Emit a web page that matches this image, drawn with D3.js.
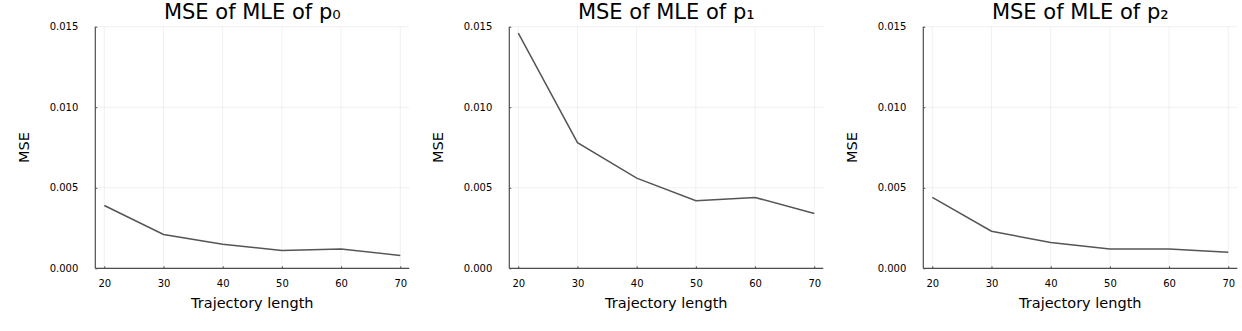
<!DOCTYPE html>
<html>
<head>
<meta charset="utf-8">
<script src="https://cdn.jsdelivr.net/npm/d3@7"></script>
<style>
  body { margin:0; background:#fff; }
  svg { display:block; font-family:"DejaVu Sans", sans-serif; }
  .tick text { font-size:10px; fill:#000; }
  .title { font-size:21px; fill:#000; }
  .label { font-size:14.5px; fill:#000; }
</style>
</head>
<body>
<svg></svg>
<script>
// trajectory lengths on the x axis
var lengths = [20,30,40,50,60,70]
// MSE values
var mseP0 = [0.0039,0.0021,0.0015,0.0011,0.0012,0.0008]
var mseP1 = [0.0146,0.0078,0.0056,0.0042,0.0044,0.0034]
var mseP2 = [0.0044,0.0023,0.0016,0.0012,0.0012,0.0010]
var titles = ["MSE of MLE of p\u2080","MSE of MLE of p\u2081","MSE of MLE of p\u2082"]
var yTicks = [0,0.005,0.010,0.015]
var xTicks = [20,30,40,50,60,70]

var screen = {width:1242,height:331}
var margins = {left:95.3,top:26.7}
var graph = {width:314,height:241.6}
var panelStep = 414

var svg = d3.select("svg")
    .attr("width",screen.width)
    .attr("height",screen.height)

var drawPanel = function(i,values)
{
    var g = svg.append("g")
        .attr("transform","translate("+(margins.left+panelStep*i)+","+margins.top+")")

    var xScale = d3.scaleLinear()
        .domain([18.48,71.52])
        .range([0,graph.width])
    var yScale = d3.scaleLinear()
        .domain([0,0.015])
        .range([graph.height,0])

    // grid
    g.append("g").selectAll("line").data(xTicks).enter().append("line")
        .attr("x1",function(d){return xScale(d)})
        .attr("x2",function(d){return xScale(d)})
        .attr("y1",0).attr("y2",graph.height)
        .attr("stroke","#000").attr("stroke-opacity",0.08).attr("stroke-width",0.8)
    g.append("g").selectAll("line").data(yTicks).enter().append("line")
        .attr("y1",function(d){return yScale(d)})
        .attr("y2",function(d){return yScale(d)})
        .attr("x1",0).attr("x2",graph.width)
        .attr("stroke","#000").attr("stroke-opacity",0.08).attr("stroke-width",0.8)

    var xAxis = d3.axisBottom(xScale).tickValues(xTicks).tickSize(-2).tickPadding(12)
        .tickFormat(d3.format("d"))
    var yAxis = d3.axisLeft(yScale).tickValues(yTicks).tickSize(-2).tickPadding(17)
        .tickFormat(d3.format(".3f"))

    var gx = g.append("g")
        .attr("transform","translate(0,"+graph.height+")")
        .call(xAxis)
    var gy = g.append("g").call(yAxis)
    ;[gx,gy].forEach(function(a){
        a.select(".domain").attr("stroke","#4d4d4d").attr("stroke-width",1.2)
        a.selectAll(".tick line").attr("stroke","#4d4d4d").attr("stroke-width",1)
        a.selectAll("text").attr("font-family",null)
        a.attr("font-family",null).attr("font-size",null)
    })
    gy.select(".domain").attr("d","M0,"+graph.height+"V0")
    gx.select(".domain").attr("d","M0,0H"+graph.width)

    var line = d3.line()
        .x(function(d,j){return xScale(lengths[j])})
        .y(function(d){return yScale(d)})
    g.append("path")
        .datum(values)
        .attr("d",line)
        .attr("fill","none")
        .attr("stroke","#555")
        .attr("stroke-width",1.5)

    g.append("text")
        .text(titles[i])
        .classed("title",true)
        .attr("text-anchor","middle")
        .attr("x",graph.width/2)
        .attr("y",19-margins.top)

    g.append("text")
        .text("Trajectory length")
        .classed("label",true)
        .attr("text-anchor","middle")
        .attr("x",graph.width/2)
        .attr("y",308-margins.top)

    g.append("g")
        .attr("transform","translate(-66,"+(graph.height/2)+")")
        .append("text")
        .text("MSE")
        .classed("label",true)
        .attr("text-anchor","middle")
        .attr("transform","rotate(-90)")
}

drawPanel(0,mseP0)
drawPanel(1,mseP1)
drawPanel(2,mseP2)
</script>
</body>
</html>
